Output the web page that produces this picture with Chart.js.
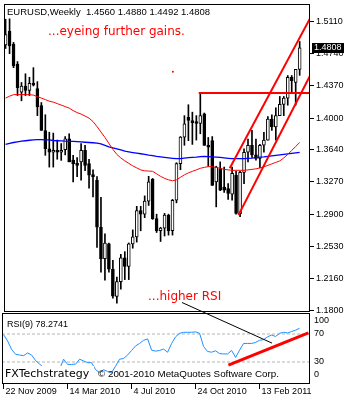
<!DOCTYPE html>
<html>
<head>
<meta charset="utf-8">
<script src="https://cdn.jsdelivr.net/npm/chart.js@4.4.0/dist/chart.umd.min.js"></script>
<style>
  body { margin: 0; background: #fff; }
  #wrap { position: relative; width: 350px; height: 400px; overflow: hidden; }
  #priceChart { position: absolute; left: 0; top: 0; }
  #rsiChart { position: absolute; left: 0; top: 290px; }
</style>
</head>
<body>
<div id="wrap">
  <canvas id="priceChart" width="350" height="316"></canvas>
  <canvas id="rsiChart" width="350" height="110"></canvas>
</div>
<script>
// EURUSD weekly bars, week of 22 Nov 2009 through week of 24 Apr 2011
const open = [1.4840, 1.5000, 1.4850, 1.4620, 1.4300, 1.4370, 1.4320, 1.4400, 1.4340, 1.4145,
  1.3860, 1.3650, 1.3610, 1.3612, 1.3610, 1.3640, 1.3765, 1.3520, 1.3475, 1.3500,
  1.3631, 1.3479, 1.3355, 1.3290, 1.2750, 1.2390, 1.2560, 1.2270, 1.1956, 1.2127,
  1.2400, 1.2300, 1.2560, 1.2640, 1.2940, 1.2900, 1.3050, 1.3300, 1.2850, 1.2710,
  1.2740, 1.2890, 1.2710, 1.3060, 1.3480, 1.3783, 1.4012, 1.3974, 1.3950, 1.3940,
  1.4050, 1.3688, 1.3745, 1.3269, 1.3422, 1.3212, 1.3193, 1.3130, 1.3346, 1.2905,
  1.3380, 1.3610, 1.3690, 1.3580, 1.3540, 1.3690, 1.3750, 1.3990, 1.3900, 1.4030,
  1.4160, 1.4230, 1.4470, 1.4410, 1.4560];
const high = [1.5135, 1.5140, 1.4870, 1.4650, 1.4410, 1.4510, 1.4470, 1.4580, 1.4420, 1.4180,
  1.4040, 1.3840, 1.3830, 1.3750, 1.3710, 1.3790, 1.3822, 1.3574, 1.3550, 1.3711,
  1.3690, 1.3530, 1.3410, 1.3330, 1.3094, 1.2674, 1.2570, 1.2370, 1.2180, 1.2440,
  1.2470, 1.2570, 1.2720, 1.2990, 1.2990, 1.3110, 1.3334, 1.3310, 1.2900, 1.2750,
  1.2910, 1.2900, 1.3070, 1.3490, 1.3790, 1.4030, 1.4155, 1.4070, 1.4030, 1.4290,
  1.4060, 1.3780, 1.3790, 1.3450, 1.3500, 1.3440, 1.3250, 1.3440, 1.3390, 1.3390,
  1.3650, 1.3760, 1.3862, 1.3760, 1.3700, 1.3840, 1.4020, 1.4040, 1.4120, 1.4250,
  1.4250, 1.4490, 1.4490, 1.4560, 1.4880];
const low = [1.4800, 1.4740, 1.4580, 1.4260, 1.4200, 1.4260, 1.4260, 1.4370, 1.4030, 1.3860,
  1.3575, 1.3440, 1.3440, 1.3530, 1.3517, 1.3580, 1.3500, 1.3269, 1.3330, 1.3290,
  1.3400, 1.3197, 1.3098, 1.2520, 1.2235, 1.2143, 1.2234, 1.1938, 1.1880, 1.2040,
  1.2150, 1.2150, 1.2510, 1.2580, 1.2710, 1.2860, 1.3000, 1.2840, 1.2690, 1.2587,
  1.2650, 1.2660, 1.2660, 1.3030, 1.3410, 1.3690, 1.3743, 1.3700, 1.3750, 1.3822,
  1.3690, 1.3450, 1.3230, 1.2984, 1.3170, 1.3150, 1.3070, 1.3060, 1.2900, 1.2873,
  1.3250, 1.3500, 1.3550, 1.3520, 1.3430, 1.3610, 1.3750, 1.3860, 1.3750, 1.4030,
  1.4030, 1.4150, 1.4300, 1.4150, 1.4492];
const close = [1.4960, 1.4830, 1.4600, 1.4350, 1.4370, 1.4320, 1.4400, 1.4380, 1.4130, 1.3860,
  1.3650, 1.3610, 1.3612, 1.3610, 1.3615, 1.3765, 1.3500, 1.3475, 1.3460, 1.3631,
  1.3460, 1.3346, 1.3326, 1.2750, 1.2390, 1.2570, 1.2270, 1.1960, 1.2127, 1.2400,
  1.2300, 1.2560, 1.2640, 1.2940, 1.2900, 1.3050, 1.3270, 1.2850, 1.2710, 1.2740,
  1.2890, 1.2710, 1.3060, 1.3480, 1.3783, 1.3936, 1.3974, 1.3950, 1.3940, 1.4030,
  1.3688, 1.3669, 1.3231, 1.3441, 1.3174, 1.3174, 1.3137, 1.3368, 1.2908, 1.3380,
  1.3610, 1.3690, 1.3580, 1.3540, 1.3690, 1.3750, 1.3990, 1.3900, 1.4030, 1.4160,
  1.4230, 1.4470, 1.4430, 1.4560, 1.4808];

// moving averages (red = fast, blue = slow)
const maFast = [1.4231, 1.4253, 1.4271, 1.4271, 1.4271, 1.4271, 1.4271, 1.4265, 1.4248, 1.4231,
  1.4214, 1.4196, 1.4185, 1.4168, 1.4151, 1.4134, 1.4116, 1.4088, 1.4065, 1.4048,
  1.4025, 1.4002, 1.3962, 1.3905, 1.3842, 1.3780, 1.3711, 1.3643, 1.3585, 1.3545,
  1.3511, 1.3483, 1.3454, 1.3431, 1.3408, 1.3397, 1.3395, 1.3391, 1.3363, 1.3334,
  1.3311, 1.3294, 1.3283, 1.3294, 1.3323, 1.3351, 1.3374, 1.3391, 1.3408, 1.3426,
  1.3437, 1.3445, 1.3445, 1.3437, 1.3426, 1.3414, 1.3408, 1.3403, 1.3403, 1.3403,
  1.3403, 1.3408, 1.3414, 1.3420, 1.3431, 1.3443, 1.3460, 1.3477, 1.3494, 1.3511,
  1.3545, 1.3585, 1.3631, 1.3677, 1.3722];
const maSlow = [1.3700, 1.3711, 1.3722, 1.3730, 1.3737, 1.3742, 1.3748, 1.3753, 1.3754, 1.3754,
  1.3753, 1.3751, 1.3745, 1.3742, 1.3740, 1.3737, 1.3736, 1.3734, 1.3732, 1.3728,
  1.3725, 1.3722, 1.3719, 1.3716, 1.3705, 1.3688, 1.3671, 1.3659, 1.3648, 1.3637,
  1.3623, 1.3614, 1.3606, 1.3599, 1.3593, 1.3585, 1.3577, 1.3571, 1.3563, 1.3557,
  1.3551, 1.3545, 1.3540, 1.3536, 1.3537, 1.3542, 1.3548, 1.3551, 1.3554, 1.3559,
  1.3563, 1.3560, 1.3557, 1.3554, 1.3551, 1.3545, 1.3540, 1.3536, 1.3536, 1.3536,
  1.3536, 1.3540, 1.3542, 1.3548, 1.3554, 1.3557, 1.3563, 1.3568, 1.3574, 1.3580,
  1.3585, 1.3591, 1.3597, 1.3603, 1.3608];

// RSI(9)
const rsi = [69, 60, 48, 41, 40, 39, 43, 40, 32, 27,
  22, 18, 17, 17, 20, 34, 26.5, 26.5, 27, 34,
  31.5, 29, 29, 19, 15, 19, 16.5, 15, 24, 34,
  35, 40, 46.5, 53, 56.5, 61, 63, 47, 45.5, 46.5,
  48.5, 44, 56.5, 66, 71, 72.4, 72.4, 72.5, 73, 71,
  52, 45, 44, 46, 42, 41.5, 41.5, 46.5, 36.5, 47,
  56.5, 56.5, 56.5, 58, 61, 62, 66, 68.5, 66.5, 71,
  72.4, 71.5, 73.5, 75.5, 78.2741];

const priceTicks = [1.5110, 1.4740, 1.4370, 1.4000, 1.3640, 1.3270, 1.2900, 1.2530, 1.2160, 1.1800];
const rsiTicks = [100, 70, 30, 0];
const rsiLevels = [70, 30];
const dateTicks = [0, 16, 32, 48, 64];
const dateLabels = ['22 Nov 2009', '14 Mar 2010', '4 Jul 2010', '24 Oct 2010', '13 Feb 2011'];

// hand-drawn studies, in (week, price) / (week, rsi) units
const resistance = [{x: 48.6, y: 1.4290}, {x: 76.6, y: 1.4290}];
const channelTop = [{x: 56.4, y: 1.3426}, {x: 76.6, y: 1.5144}];
const channelBottom = [{x: 58.6, y: 1.2889}, {x: 76.6, y: 1.4488}];
const strayDot = [{x: 42.1, y: 1.4533}];
const rsiTrend = [{x: 56.2, y: 25.5}, {x: 76.2, y: 71.5}];
const rsiPointer = [{x: 44.6, y: 115}, {x: 67.1, y: 57}];

const X_MIN = -0.4, X_MAX = 76.6;
const weeks = close.map((_, i) => i);
const last = close.length - 1;
const FONT = 'Liberation Sans, Arial, sans-serif';

function fixWidth(scale) {
  scale.width = 40;
  scale.paddingTop = 0;
  scale.paddingBottom = 0;
}

const priceDecor = {
  id: 'priceDecor',
  afterDatasetsDraw(chart) {
    const {ctx, chartArea: a, scales} = chart;
    ctx.save();
    ctx.strokeStyle = '#000';
    ctx.lineWidth = 1;
    ctx.strokeRect(a.left + 0.5, a.top + 0.5, a.right - a.left - 1, a.bottom - a.top);

    ctx.fillStyle = '#000';
    ctx.font = '9.5px ' + FONT;
    ctx.textBaseline = 'alphabetic';
    ctx.fillText('EURUSD,Weekly', 7, 15);
    const hdr = [open[last], high[last], low[last], close[last]].map(v => v.toFixed(4)).join(' ');
    ctx.fillText(hdr, 86, 15);

    ctx.fillStyle = '#ff0000';
    ctx.font = '12px DejaVu Sans';
    ctx.fillText('...eyeing further gains.', 48, 35);
    ctx.fillText('...higher RSI', 148, 300);

    // last price marker on the axis
    const y = scales.y.getPixelForValue(close[last]);
    ctx.fillStyle = '#000';
    ctx.fillRect(a.right + 2, Math.round(y) - 5, 32, 10);
    ctx.fillStyle = '#fff';
    ctx.font = '9px ' + FONT;
    ctx.textBaseline = 'middle';
    ctx.fillText(close[last].toFixed(4), a.right + 4, Math.round(y));
    ctx.restore();
  }
};

new Chart(document.getElementById('priceChart'), {
  type: 'bar',
  data: {
    datasets: [
      {type: 'line', data: resistance, borderColor: '#ff0000', borderWidth: 2, pointRadius: 0, order: 0},
      {type: 'line', data: channelTop, borderColor: '#ff0000', borderWidth: 2, pointRadius: 0, order: 0},
      {type: 'line', data: channelBottom, borderColor: '#ff0000', borderWidth: 2, pointRadius: 0, order: 0},
      {type: 'line', data: strayDot, borderColor: '#ff0000', backgroundColor: '#ff0000', pointRadius: 1, pointBorderWidth: 0, showLine: false, order: 0},
      {type: 'line', data: weeks.map(i => ({x: i, y: maFast[i]})), borderColor: '#ff0000', borderWidth: 1, pointRadius: 0, order: 1},
      {type: 'line', data: weeks.map(i => ({x: i, y: maSlow[i]})), borderColor: '#0000ff', borderWidth: 1.3, pointRadius: 0, order: 1},
      {
        data: weeks.map(i => ({x: i, y: [open[i], close[i]]})),
        backgroundColor: weeks.map(i => close[i] >= open[i] ? '#ffffff' : '#000000'),
        borderColor: '#000', borderWidth: 1, borderSkipped: false,
        barThickness: 3, minBarLength: 2, grouped: false, order: 2
      },
      {
        data: weeks.map(i => ({x: i, y: [low[i], high[i]]})),
        backgroundColor: '#000', barThickness: 1, grouped: false, order: 3
      }
    ]
  },
  options: {
    responsive: false,
    animation: false,
    layout: {padding: {left: 2, top: 3, right: 0, bottom: 5}},
    plugins: {legend: {display: false}, tooltip: {enabled: false}},
    scales: {
      x: {type: 'linear', min: X_MIN, max: X_MAX, offset: false, display: false},
      y: {
        position: 'right', min: 1.1790, max: 1.5310, beginAtZero: false,
        afterBuildTicks: s => { s.ticks = priceTicks.map(v => ({value: v})); },
        afterFit: fixWidth,
        ticks: {color: '#000', font: {family: FONT, size: 9}, padding: 2, callback: v => v.toFixed(4)},
        grid: {drawOnChartArea: false, tickLength: 4, color: '#000'},
        border: {display: false}
      }
    }
  },
  plugins: [priceDecor]
});

const rsiDecor = {
  id: 'rsiDecor',
  afterDatasetsDraw(chart) {
    const {ctx, chartArea: a, scales} = chart;
    ctx.save();
    ctx.strokeStyle = '#000';
    ctx.lineWidth = 1;
    ctx.strokeRect(a.left + 0.5, a.top + 0.5, a.right - a.left - 1, a.bottom - a.top);

    ctx.fillStyle = '#000';
    ctx.font = '9px ' + FONT;
    ctx.textBaseline = 'middle';
    rsiTicks.forEach(v => {
      const y = Math.min(Math.max(scales.y.getPixelForValue(v), a.top + 8), a.bottom - 8);
      ctx.fillText(String(v), a.right + 4, y);
    });

    ctx.textBaseline = 'alphabetic';
    ctx.fillText('RSI(9) ' + rsi[last].toFixed(4), 7, 327 - 290);
    ctx.font = '9.8px ' + FONT;
    ctx.fillText('\u00a9 2001-2010 MetaQuotes Software Corp.', 98, 377 - 290);

    // watermark sits on its own white patch
    ctx.fillStyle = '#fff';
    ctx.fillRect(a.left + 1, 366 - 290, 91, 15);
    ctx.fillStyle = '#000';
    ctx.font = '11px DejaVu Sans';
    ctx.fillText('FXTechstrategy', 5, 377 - 290);
    ctx.restore();
  }
};

new Chart(document.getElementById('rsiChart'), {
  type: 'line',
  data: {
    datasets: [
      {data: rsiPointer, borderColor: '#000', borderWidth: 1, pointRadius: 0, clip: false, order: 0},
      {data: rsiTrend, borderColor: '#ff0000', borderWidth: 3, pointRadius: 0, order: 0},
      {data: weeks.map(i => ({x: i, y: rsi[i]})), borderColor: '#1e90ff', borderWidth: 1, pointRadius: 0, order: 1},
      ...rsiLevels.map(v => ({
        data: [{x: X_MIN, y: v}, {x: X_MAX, y: v}],
        borderColor: '#b4b4b4', borderWidth: 1, borderDash: [3, 2], pointRadius: 0, order: 2
      }))
    ]
  },
  options: {
    responsive: false,
    animation: false,
    layout: {padding: {left: 2, top: 23, right: 0, bottom: 0}},
    plugins: {legend: {display: false}, tooltip: {enabled: false}},
    scales: {
      x: {
        type: 'linear', min: X_MIN, max: X_MAX, offset: false,
        afterBuildTicks: s => { s.ticks = dateTicks.map(v => ({value: v})); },
        afterFit: s => { s.height = 17; },
        ticks: {
          color: '#000', font: {family: FONT, size: 9}, align: 'start', labelOffset: 2,
          padding: -3, maxRotation: 0, autoSkip: false,
          callback: (v, idx) => dateLabels[idx]
        },
        grid: {drawOnChartArea: false, tickLength: 6, color: '#000'},
        border: {display: false}
      },
      y: {
        position: 'right', min: 0, max: 100,
        afterFit: fixWidth,
        ticks: {display: false},
        grid: {display: false},
        border: {display: false}
      }
    }
  },
  plugins: [rsiDecor]
});
</script>
</body>
</html>
